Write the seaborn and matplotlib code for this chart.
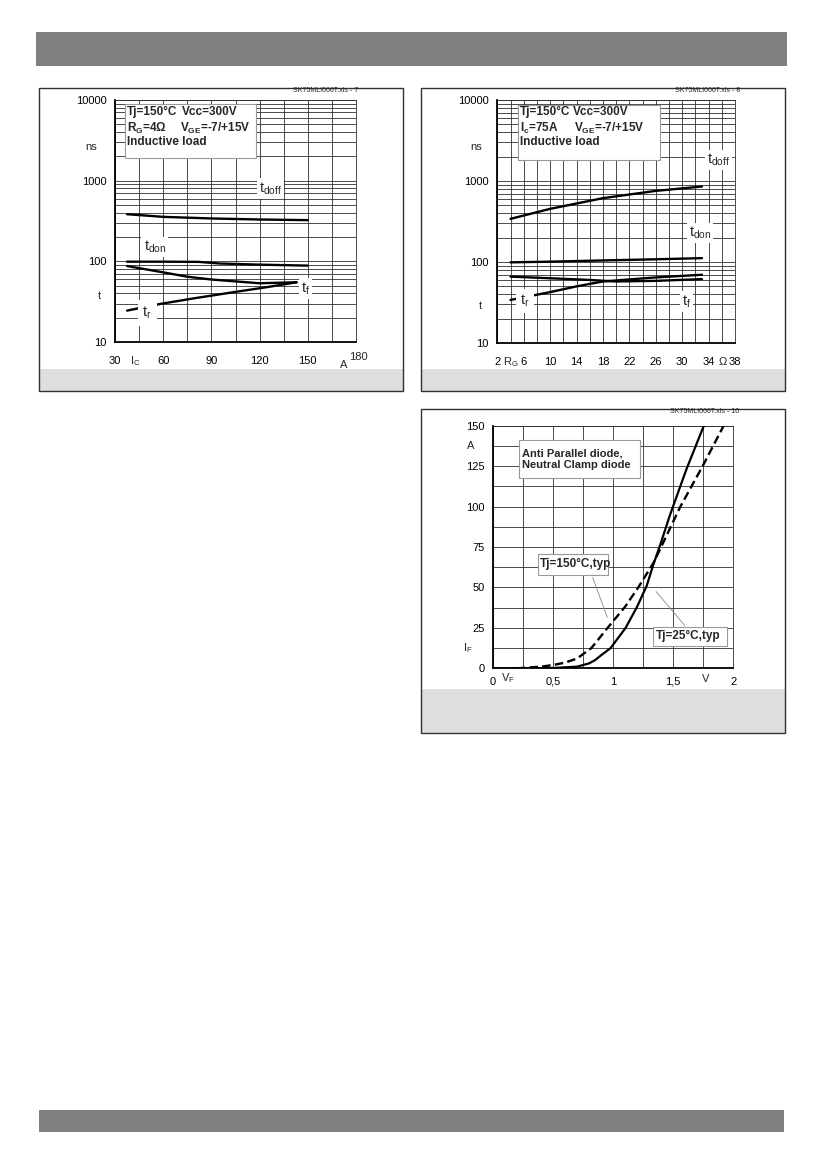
import numpy as np
import matplotlib
matplotlib.use("Agg")
import matplotlib.pyplot as plt
import seaborn as sns
from matplotlib.patches import Rectangle
from matplotlib.ticker import LogLocator, NullFormatter, MultipleLocator

W, H = 826, 1169

# --- chart 1 : switching times vs collector current (Tj=150C, RG=4 Ohm)
ic_doff = [37.5, 60, 90, 120, 150]
tdoff_ic = [384, 356, 340, 330, 324]
ic_don = [37.5, 60, 82, 95, 120, 150]
tdon_ic = [99, 99, 98.5, 94, 91, 88.5]
ic_f = [37.5, 60, 75, 90, 120, 143]
tf_ic = [87.5, 73, 64.5, 59.5, 53.5, 55]
ic_r = [37.5, 58, 80, 103.6, 125, 143]
tr_ic = [24.5, 29.6, 35, 41.4, 48, 55]

# --- chart 2 : switching times vs gate resistor (Tj=150C, Ic=75A)
rg_doff = [4, 10, 18, 26, 33]
tdoff_rg = [341, 453, 614, 755, 855]
rg_don = [4, 10, 18, 26, 33]
tdon_rg = [99, 101, 104.5, 108, 111.6]
rg_f = [4, 10, 16, 20, 26, 33]
tf_rg = [66, 63, 60, 57.5, 58.5, 61.5]
rg_r = [4, 10, 14, 18, 26, 33]
tr_rg = [34, 42.5, 50, 57.5, 64.5, 69.6]

# --- chart 3 : diode forward characteristic
vf_25 = [0, 0.3, 0.5, 0.7, 0.8, 0.85, 0.9, 0.98, 1.105, 1.2, 1.28, 1.335, 1.40, 1.47, 1.61, 1.755]
if_25 = [0, 0, 0.2, 1, 3, 5, 8, 12.5, 25, 38, 51, 64, 78, 94, 123, 150]
vf_150 = [0.2, 0.4, 0.5, 0.6, 0.7, 0.82, 0.955, 1.1, 1.21, 1.335, 1.40, 1.56, 1.745, 1.92]
if_150 = [0, 1, 2, 3.5, 6, 12.5, 25, 38, 50, 65, 75, 100, 125, 150]

x1_ticks = [30, 60, 90, 120, 150]
x1_labels = ['30', '60', '90', '120', '150']
x2_ticks = [2, 6, 10, 14, 18, 22, 26, 30, 34, 38]
x2_labels = ['2', '6', '10', '14', '18', '22', '26', '30', '34', '38']
x3_ticks = [0, 0.5, 1, 1.5, 2]
x3_labels = ['0', '0,5', '1', '1,5', '2']
y3_ticks = [0, 25, 50, 75, 100, 125, 150]
ylog_ticks = [10, 100, 1000, 10000]
ylog_labels = ['10', '100', '1000', '10000']

sns.set_theme(style="white")
plt.rcParams['font.family'] = ['Liberation Sans', 'DejaVu Sans']
plt.rcParams['mathtext.default'] = 'regular'

fig = plt.figure(figsize=(W / 100, H / 100), dpi=100)

GRID = '#2e2e2e'


def px_rect(x0, y0, x1, y1, **kw):
    r = Rectangle((x0 / W, 1 - y1 / H), (x1 - x0) / W, (y1 - y0) / H,
                  transform=fig.transFigure, **kw)
    fig.add_artist(r)


def px_axes(x0, y0, x1, y1):
    return fig.add_axes([x0 / W, 1 - y1 / H, (x1 - x0) / W, (y1 - y0) / H])


def panel(x0, y0, x1, y1, band):
    px_rect(x0, band, x1, y1, facecolor='#dedede', edgecolor='none')
    px_rect(x0, y0, x1, y1, fill=False, edgecolor='#303030', lw=1.0)


def style(ax):
    for s in ['left', 'bottom']:
        ax.spines[s].set_color('black')
        ax.spines[s].set_linewidth(1.3)
    for s in ['top', 'right']:
        ax.spines[s].set_color(GRID)
        ax.spines[s].set_linewidth(0.6)
    ax.grid(True, which='both', color=GRID, lw=0.6)
    ax.tick_params(which='both', length=0, labelsize=8, colors='black')
    ax.set_xlabel('')
    ax.set_ylabel('')
    ax.set_facecolor('white')


def side_text(ax, s, y, dx, **kw):
    ax.annotate(s, xy=(0, y), xycoords=('axes fraction', 'data'), xytext=(dx, 0),
                textcoords='offset points', ha='center', va='center', fontsize=8,
                annotation_clip=False, **kw)


def low_text(ax, s, x, dy, **kw):
    ax.annotate(s, xy=(x, 0), xycoords=('data', 'axes fraction'), xytext=(0, dy),
                textcoords='offset points', ha='center', va='center', fontsize=8,
                annotation_clip=False, **kw)


def curve_label(ax, x, y, s, pad=1.5):
    ax.text(x, y, s, ha='center', va='center', fontsize=10.5, zorder=6,
            bbox=dict(facecolor='white', edgecolor='none', pad=pad))


def info_box(ax, x0, x1, y0, y1):
    ax.add_patch(Rectangle((x0, y0), x1 - x0, y1 - y0, transform=ax.transAxes,
                           facecolor='white', edgecolor='#9a9a9a', lw=0.8, zorder=5))


def box_text(ax, x, y, s, size=8.5):
    ax.text(x, y, s, transform=ax.transAxes, fontsize=size, fontweight='bold',
            ha='left', va='center', zorder=6)


# header / footer bars
px_rect(36, 32, 787, 66, facecolor='#808080', edgecolor='none')
px_rect(39, 1110, 784, 1132, facecolor='#808080', edgecolor='none')

# ================= chart 1 =================
panel(39, 88, 402.5, 390.5, 369)
fig.text(358 / W, 1 - 90.5 / H, 'SK75MLI066T.xls - 7', ha='right', va='center', fontsize=5)
ax1 = px_axes(115, 100, 356, 342)
for xs, ys in [(ic_doff, tdoff_ic), (ic_don, tdon_ic), (ic_f, tf_ic), (ic_r, tr_ic)]:
    sns.lineplot(x=xs, y=ys, ax=ax1, color='black', lw=1.7, zorder=3)
ax1.set_yscale('log')
ax1.set_ylim(10, 10000)
ax1.set_xlim(30, 180)
ax1.set_yticks(ylog_ticks, ylog_labels)
ax1.yaxis.set_minor_locator(LogLocator(base=10, subs=np.arange(2, 10)))
ax1.yaxis.set_minor_formatter(NullFormatter())
ax1.set_xticks(x1_ticks, x1_labels)
ax1.xaxis.set_minor_locator(MultipleLocator(15))
style(ax1)
ax1.tick_params(axis='x', pad=10)
ax1.tick_params(axis='y', pad=6)
side_text(ax1, 'ns', 2630, -17)
side_text(ax1, 't', 37, -11.5)
low_text(ax1, r'I$_C$', 42.3, -14)
low_text(ax1, 'A', 172.3, -16.5)
low_text(ax1, '180', 181.8, -10.5)
info_box(ax1, 0.041, 0.586, 0.759, 0.982)
box_text(ax1, 0.048, 0.952, 'Tj=150°C')
box_text(ax1, 0.276, 0.952, 'Vcc=300V')
box_text(ax1, 0.048, 0.883, r'R$_G$=4Ω')
box_text(ax1, 0.269, 0.883, r'V$_{GE}$=-7/+15V')
box_text(ax1, 0.048, 0.825, 'Inductive load')
curve_label(ax1, 126.7, 800, r't$_{doff}$')
curve_label(ax1, 54.8, 151, r't$_{don}$')
curve_label(ax1, 148.5, 46, r't$_f$')
curve_label(ax1, 50, 23, r't$_r$', pad=3.5)

# ================= chart 2 =================
panel(420.5, 88, 784.5, 390.5, 369)
fig.text(740 / W, 1 - 90.5 / H, 'SK75MLI066T.xls - 8', ha='right', va='center', fontsize=5)
ax2 = px_axes(497.3, 100, 735, 343)
for xs, ys in [(rg_doff, tdoff_rg), (rg_don, tdon_rg), (rg_f, tf_rg), (rg_r, tr_rg)]:
    sns.lineplot(x=xs, y=ys, ax=ax2, color='black', lw=1.7, zorder=3)
ax2.set_yscale('log')
ax2.set_ylim(10, 10000)
ax2.set_xlim(2, 38)
ax2.set_yticks(ylog_ticks, ylog_labels)
ax2.yaxis.set_minor_locator(LogLocator(base=10, subs=np.arange(2, 10)))
ax2.yaxis.set_minor_formatter(NullFormatter())
ax2.set_xticks(x2_ticks, x2_labels)
ax2.xaxis.set_minor_locator(MultipleLocator(2))
style(ax2)
ax2.tick_params(axis='x', pad=10)
ax2.tick_params(axis='y', pad=6)
side_text(ax2, 'ns', 2660, -15)
side_text(ax2, 't', 28.3, -12)
low_text(ax2, r'R$_G$', 4.1, -14)
low_text(ax2, 'Ω', 36.2, -14)
info_box(ax2, 0.088, 0.684, 0.753, 0.979)
box_text(ax2, 0.095, 0.952, 'Tj=150°C')
box_text(ax2, 0.320, 0.952, 'Vcc=300V')
box_text(ax2, 0.095, 0.884, r'I$_c$=75A')
box_text(ax2, 0.324, 0.884, r'V$_{GE}$=-7/+15V')
box_text(ax2, 0.095, 0.826, 'Inductive load')
curve_label(ax2, 35.5, 1820, r't$_{doff}$')
curve_label(ax2, 32.7, 227, r't$_{don}$')
curve_label(ax2, 30.7, 32.6, r't$_f$')
curve_label(ax2, 6.2, 33, r't$_r$', pad=3)

# ================= chart 3 =================
panel(420.5, 409, 784.5, 733, 689)
fig.text(739 / W, 1 - 412 / H, 'SK75MLI066T.xls - 10', ha='right', va='center', fontsize=5)
ax3 = px_axes(492.7, 425.7, 733.3, 668.3)
sns.lineplot(x=vf_25, y=if_25, ax=ax3, color='black', lw=1.6, zorder=3)
sns.lineplot(x=vf_150, y=if_150, ax=ax3, color='black', lw=1.7, zorder=3)
ax3.lines[-1].set_dashes((3.6, 1.8))
ax3.set_xlim(0, 2)
ax3.set_ylim(0, 150)
ax3.set_xticks(x3_ticks, x3_labels)
ax3.set_yticks(y3_ticks, [str(v) for v in y3_ticks])
ax3.xaxis.set_minor_locator(MultipleLocator(0.25))
ax3.yaxis.set_minor_locator(MultipleLocator(12.5))
style(ax3)
ax3.tick_params(axis='x', pad=6)
ax3.tick_params(axis='y', pad=6)
side_text(ax3, 'A', 137.5, -16)
side_text(ax3, r'I$_F$', 12.4, -18)
low_text(ax3, r'V$_F$', 0.13, -7)
low_text(ax3, 'V', 1.773, -8)
info_box(ax3, 0.111, 0.612, 0.786, 0.941)
box_text(ax3, 0.120, 0.887, 'Anti Parallel diode,', size=8)
box_text(ax3, 0.120, 0.836, 'Neutral Clamp diode', size=8)
ax3.annotate('', xy=(0.961, 29.9), xytext=(0.823, 57.7),
             arrowprops=dict(arrowstyle='-', color='#888888', lw=0.6))
ax3.annotate('', xy=(1.612, 25.1), xytext=(1.343, 48.8),
             arrowprops=dict(arrowstyle='-', color='#888888', lw=0.6))
info_box(ax3, 0.190, 0.481, 0.385, 0.470)
box_text(ax3, 0.197, 0.429, 'Tj=150°C,typ')
info_box(ax3, 0.668, 0.972, 0.093, 0.172)
box_text(ax3, 0.679, 0.134, 'Tj=25°C,typ')

fig.savefig('out.png', dpi=100)
